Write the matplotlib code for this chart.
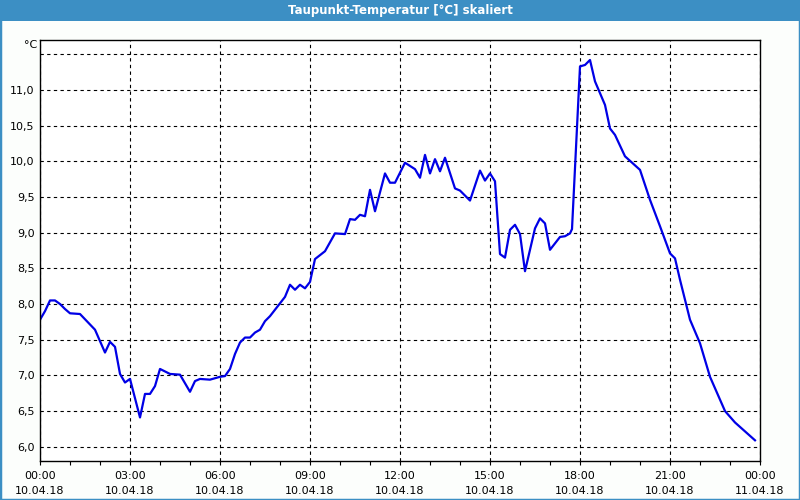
import numpy as np
import matplotlib.pyplot as plt
import matplotlib as mpl
from matplotlib.patches import Rectangle
from matplotlib.ticker import FixedLocator, MultipleLocator

mpl.rcParams.update({
    "font.family": "DejaVu Sans",
    "font.size": 8,
})

# Data: minutes since 10.04.18 00:00, dew point in degC
minutes = [0, 10, 20, 30, 40, 50, 60, 80, 110, 130, 140, 150, 160, 170, 180,
           200, 210, 220, 230, 240, 260, 280, 300, 310, 320, 340, 360, 370,
           380, 390, 400, 410, 420, 430, 440, 450, 460, 480, 490, 500, 510,
           520, 530, 540, 550, 570, 590, 610, 620, 630, 640, 650, 660, 670,
           690, 700, 710, 730, 750, 760, 770, 780, 790, 800, 810, 830, 840,
           860, 880, 890, 900, 910, 920, 930, 940, 950, 960, 970, 990, 1000,
           1010, 1020, 1040, 1050, 1060, 1064, 1080, 1090, 1100, 1110, 1130,
           1140, 1150, 1170, 1200, 1220, 1240, 1260, 1270, 1280, 1300, 1320,
           1340, 1370, 1390, 1430]
values = [7.78, 7.90, 8.05, 8.05, 8.00, 7.93, 7.87, 7.86, 7.64, 7.32, 7.47,
          7.40, 7.02, 6.90, 6.95, 6.41, 6.74, 6.74, 6.85, 7.09, 7.02, 7.01,
          6.77, 6.92, 6.95, 6.94, 6.98, 6.99, 7.09, 7.30, 7.46, 7.53, 7.53,
          7.60, 7.64, 7.76, 7.83, 8.01, 8.10, 8.27, 8.20, 8.27, 8.22, 8.31,
          8.63, 8.74, 8.99, 8.98, 9.19, 9.18, 9.25, 9.23, 9.60, 9.30, 9.83,
          9.70, 9.70, 9.98, 9.89, 9.77, 10.09, 9.83, 10.03, 9.86, 10.05, 9.62,
          9.59, 9.45, 9.87, 9.73, 9.83, 9.72, 8.70, 8.65, 9.04, 9.11, 8.98,
          8.46, 9.06, 9.20, 9.13, 8.76, 8.94, 8.95, 8.99, 9.05, 11.33, 11.35,
          11.42, 11.12, 10.79, 10.46, 10.37, 10.07, 9.88, 9.46, 9.09, 8.71,
          8.64, 8.34, 7.78, 7.45, 6.98, 6.50, 6.34, 6.09]

y_ticks = [6.0, 6.5, 7.0, 7.5, 8.0, 8.5, 9.0, 9.5, 10.0, 10.5, 11.0, 11.5]
y_labels = ["6,0", "6,5", "7,0", "7,5", "8,0", "8,5", "9,0", "9,5", "10,0",
            "10,5", "11,0", ""]
x_ticks = [0, 180, 360, 540, 720, 900, 1080, 1260, 1440]
x_labels = ["00:00\n10.04.18", "03:00\n10.04.18", "06:00\n10.04.18",
            "09:00\n10.04.18", "12:00\n10.04.18", "15:00\n10.04.18",
            "18:00\n10.04.18", "21:00\n10.04.18", "00:00\n11.04.18"]

title_blue = "#3c8fc4"

fig = plt.figure(figsize=(8, 5), dpi=100, facecolor="#fcfefc")
# window frame and title bar
fig.patches.append(Rectangle((0, 0), 1, 1, transform=fig.transFigure,
                             fill=False, edgecolor=title_blue, linewidth=2.5))
fig.patches.append(Rectangle((0, 0.958), 1, 0.042, transform=fig.transFigure,
                             facecolor=title_blue, edgecolor="none"))
fig.text(0.5, 0.979, "Taupunkt-Temperatur [°C] skaliert", color="white",
         fontweight="bold", ha="center", va="center", fontsize=8.5)

ax = fig.add_axes([0.05, 0.078, 0.9, 0.842])
ax.plot(minutes, values, color="#0000e6", linewidth=1.6)

ax.set_xlim(0, 1440)
ax.set_ylim(5.80, 11.70)
ax.yaxis.set_major_locator(FixedLocator(y_ticks))
ax.set_yticklabels(y_labels)
ax.set_xticks(x_ticks)
ax.set_xticklabels(x_labels, linespacing=1.6)
ax.xaxis.set_minor_locator(MultipleLocator(60))

ax.tick_params(axis="y", length=0, pad=4, labelsize=8)
ax.tick_params(axis="x", which="both", length=3, width=0.8, direction="out",
               pad=4, labelsize=8)
ax.grid(True, which="major", color="black", linestyle=(0, (3, 3)),
        linewidth=0.8)
for s in ax.spines.values():
    s.set_linewidth(1.0)
    s.set_color("black")

ax.text(-0.004, 1.0 - 5 / 421, "°C", transform=ax.transAxes, ha="right",
        va="center", fontsize=8)

plt.savefig("out.png", dpi=100, facecolor=fig.get_facecolor())
